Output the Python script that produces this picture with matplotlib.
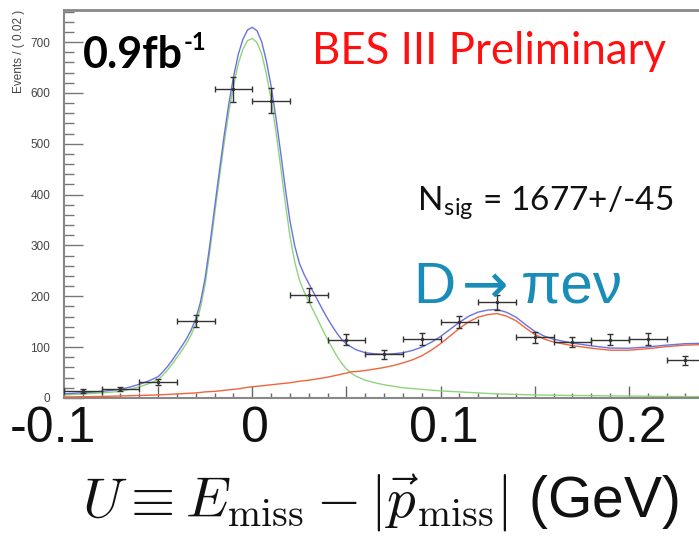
import matplotlib
matplotlib.use("Agg")
import matplotlib.pyplot as plt
from matplotlib.ticker import MultipleLocator

plt.rcParams['mathtext.fontset'] = 'cm'

# ---------------- data ----------------
bin_centers = [-0.09, -0.07, -0.05, -0.03, -0.01, 0.01, 0.03, 0.05, 0.07,
               0.09, 0.11, 0.13, 0.15, 0.17, 0.19, 0.21, 0.23]
counts = [14, 17, 31, 151, 607, 585, 202, 115, 86,
          116, 150, 188, 119, 110, 115, 116, 74]
count_errors = [4, 4, 6, 12, 25, 24, 14, 11, 9, 11, 12, 14, 11, 10, 11, 11, 9]
bin_half_width = 0.01

curve_x = [-0.100, -0.090, -0.080, -0.070, -0.065, -0.060, -0.055, -0.050,
           -0.0475, -0.045, -0.0425, -0.040, -0.0375, -0.035, -0.0325, -0.030,
           -0.0275, -0.025, -0.0225, -0.020, -0.0175, -0.015, -0.0125, -0.010,
           -0.0075, -0.005, -0.0025, 0.000, 0.0025, 0.005, 0.0075, 0.010,
           0.0125, 0.015, 0.0175, 0.020, 0.0225, 0.025, 0.0275, 0.030,
           0.0325, 0.035, 0.0375, 0.040, 0.0425, 0.045, 0.0475, 0.050,
           0.0525, 0.055, 0.060, 0.065, 0.070, 0.075, 0.080, 0.085,
           0.090, 0.095, 0.100, 0.105, 0.110, 0.115, 0.120, 0.125,
           0.130, 0.135, 0.140, 0.145, 0.150, 0.155, 0.160, 0.170,
           0.180, 0.190, 0.200, 0.210, 0.220, 0.230, 0.240]
signal_curve = [6, 8, 10, 13, 17, 22, 28, 36,
                45, 55, 67, 80, 93, 107, 124, 146,
                178, 225, 290, 362, 432, 500, 562, 614,
                657, 686, 703, 707, 699, 676, 637, 587,
                525, 456, 384, 318, 268, 232, 209, 190,
                171, 152, 133, 115, 98, 82, 68, 57,
                49, 43, 35, 30, 26, 23, 20, 18.5,
                17, 15.5, 14, 13, 12, 11, 10, 9,
                8, 7.5, 7, 6.5, 6, 5.8, 5.5, 5,
                4.6, 4.2, 3.8, 3.4, 3.0, 2.8, 2.6]
background_curve = [2, 2.5, 3, 4, 4.5, 5, 5.5, 6,
                    6.5, 7, 7.5, 8, 8.5, 9, 9.5, 10,
                    11, 12, 12.5, 13, 14, 15, 16, 17,
                    18, 19.5, 21, 22, 23, 24, 25, 26,
                    27, 28, 29, 30, 31.5, 33, 34, 35,
                    36.5, 38, 39.5, 41, 43, 45, 47, 49,
                    51.5, 52, 54, 57, 60, 64, 69, 75,
                    83, 94, 107, 122, 137, 150, 159, 164,
                    166, 161, 152, 138, 125, 116, 110, 103,
                    98, 94, 94, 97, 101, 104, 105]
total_curve = [8, 10.5, 13, 17, 21.5, 27, 33.5, 42,
               51.5, 62, 74.5, 88, 101.5, 116, 133.5, 156,
               189, 237, 302.5, 375, 446, 515, 578, 631,
               675, 705.5, 724, 729, 722, 700, 662, 613,
               552, 484, 413, 348, 299.5, 265, 243, 225,
               207.5, 190, 172.5, 156, 141, 127, 115, 106,
               100.5, 95, 89, 87, 86, 87, 89, 93.5,
               100, 109.5, 121, 135, 149, 161, 169, 173,
               174, 168.5, 159, 144.5, 131, 121.8, 115.5, 108,
               102.6, 98.2, 97.8, 100.4, 104, 106.8, 107.6]

x_tick_labels = ['-0.1', '0', '0.1', '0.2']
x_tick_values = [-0.1, 0.0, 0.1, 0.2]

# ---------------- figure ----------------
W, H = 699, 539
fig = plt.figure(figsize=(W / 100, H / 100), dpi=100)
ax = fig.add_axes([64 / W, 141 / H, 635 / W, 388 / H])

ax.plot(curve_x, signal_curve, color='#8fd47a', lw=1.0, zorder=2)
ax.plot(curve_x, background_curve, color='#f0643c', lw=1.0, zorder=3)
ax.plot(curve_x, total_curve, color='#6a72e0', lw=1.0, zorder=4)

ax.errorbar(bin_centers, counts, yerr=count_errors, xerr=bin_half_width,
            fmt='.', color='#333333', ms=3, elinewidth=1.0, capsize=2,
            capthick=1.0, zorder=5)

ax.set_xlim(-0.1, 0.2372)
ax.set_ylim(0, 763)

# spines
for side in ['left', 'top', 'bottom']:
    ax.spines[side].set_color('#888888')
ax.spines['top'].set_linewidth(2.0)
ax.spines['left'].set_linewidth(1.5)
ax.spines['bottom'].set_linewidth(1.5)
ax.spines['right'].set_visible(False)

# y ticks
ax.yaxis.set_major_locator(MultipleLocator(100))
ax.yaxis.set_minor_locator(MultipleLocator(20))
ax.tick_params(axis='y', which='major', direction='in', length=13.5, width=1.0,
               color='#777777', labelsize=8.5, labelcolor='#444444', pad=10)
ax.tick_params(axis='y', which='minor', direction='in', length=7, width=1.0,
               color='#777777')
for lab in ax.get_yticklabels():
    lab.set_fontfamily('Liberation Sans')

# x ticks
ax.xaxis.set_major_locator(MultipleLocator(0.05))
ax.xaxis.set_minor_locator(MultipleLocator(0.01))
ax.tick_params(axis='x', which='major', direction='in', length=8.5, width=1.0,
               color='#666666', labelbottom=False)
ax.tick_params(axis='x', which='minor', direction='in', length=3.8, width=1.0,
               color='#666666')

# big x tick labels (overlay style)
for v, t in zip(x_tick_values, x_tick_labels):
    dx = -11 if t.startswith('-') else 3
    ax.annotate(t, xy=(v, 0), xycoords=('data', 'axes fraction'),
                xytext=(dx, -31), textcoords='offset pixels',
                ha='center', va='center', fontsize=36,
                family='Liberation Sans', color='#111111',
                annotation_clip=False)

ax.set_xlabel(r'$U\equiv E_{\rm miss}-|\vec{p}_{\rm miss}|$ (GeV)',
              fontsize=41, family='Liberation Sans', color='#111111')
ax.xaxis.set_label_coords((380 - 64) / 635, -(503 - 398) / 388)
ax.xaxis.label.set_va('center')

ax.text(-(64 - 19) / 635, 1.0, 'Events / ( 0.02 )', transform=ax.transAxes,
        rotation=90, ha='center', va='top', fontsize=8.5,
        family='Liberation Sans', color='#444444')

# annotations
def px(x, y):
    return x / W, 1 - y / H

t09 = fig.text(*px(83, 68), '0.9fb', fontsize=31, fontweight='bold',
               family='Lato', color='black', ha='left', va='baseline')
fig.canvas.draw()
bb = t09.get_window_extent()
fig.text((bb.x1 + 1) / W, 1 - 50 / H, '-1', fontsize=17, fontweight='bold',
         family='Lato', color='black', ha='left', va='baseline')

fig.text(*px(312, 64), 'BES III Preliminary', fontsize=31.5,
         family='Lato', color='#ff1010', ha='left', va='baseline')
fig.text(*px(417, 210), r'N$_{\mathregular{sig}}$ = 1677+/-45',
         fontsize=24, family='Lato', color='#111111', ha='left', va='baseline')

teal = '#1a8cb8'
fig.text(*px(413, 303), 'D', fontsize=42, family='Liberation Sans',
         color=teal, ha='left', va='baseline')
fig.text(*px(462, 303), '\u2192', fontsize=40, family='DejaVu Sans',
         color=teal, ha='left', va='baseline')
fig.text(*px(521, 303), '\u03c0e\u03bd', fontsize=42,
         family=['Liberation Sans', 'DejaVu Sans'], color=teal,
         ha='left', va='baseline')

fig.savefig('out.png', dpi=100, facecolor='white')
